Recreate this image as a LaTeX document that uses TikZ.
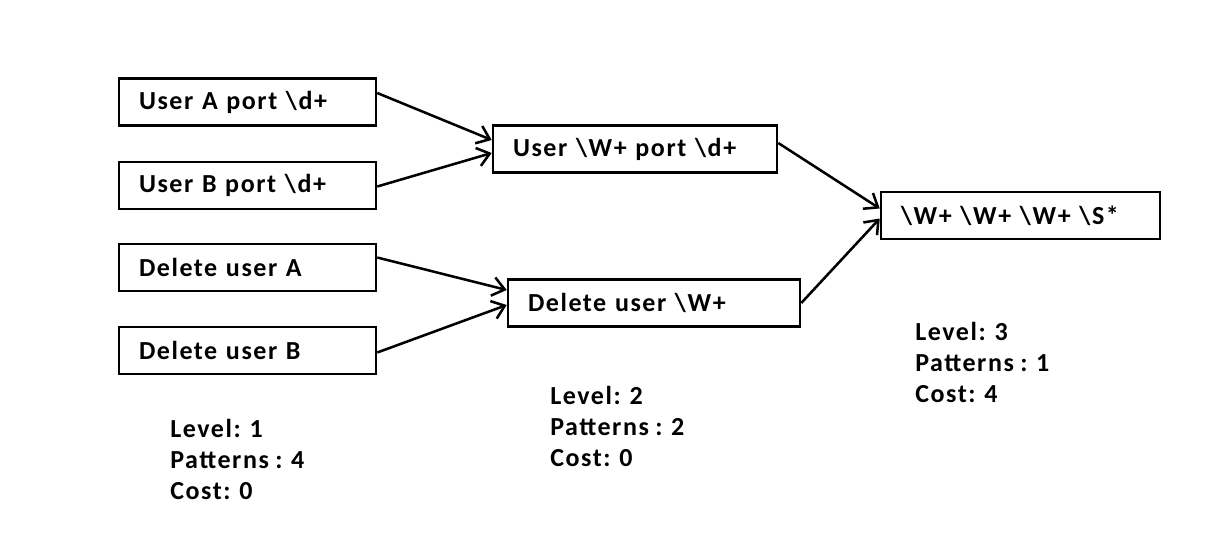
\documentclass[tikz,border=0pt]{standalone}
\usepackage{fontspec}
\setmainfont{Carlito}
\newfontfamily\boxfont[LetterSpace=6,WordSpace=0.85]{Carlito}
\usetikzlibrary{arrows.meta,calc}
\begin{document}
\begin{tikzpicture}[x=0.75pt,y=-0.75pt,
 box/.style={draw, line width=1.9pt, rectangle, inner xsep=15pt, inner ysep=0pt,
   minimum height=35.25pt, align=left, font=\boxfont\bfseries\fontsize{19.5}{22}\selectfont},
 info/.style={anchor=north west, inner sep=0pt, align=left,
   font=\boxfont\bfseries\fontsize{19.5}{23.25}\selectfont},
 arr/.style={line width=1.9pt, -{Straight Barb[length=9pt,width=14pt,line width=1.9pt]}}]
\useasboundingbox (0,0) rectangle (1216,550);
\node[box, text width=162.75pt] (A) at (247.5,102) {User A port \textbackslash d+};
\node[box, text width=162.75pt] (B) at (247.5,185.5) {User B port \textbackslash d+};
\node[box, text width=162.75pt] (C) at (247.5,267.5) {Delete user A};
\node[box, text width=162.75pt] (D) at (247.5,350.5) {Delete user B};
\node[box, text width=183pt] (E) at (635,149) {User \textbackslash W+ port \textbackslash d+};
\node[box, text width=189pt] (F) at (654,303) {Delete user \textbackslash W+};
\node[box, text width=179.25pt] (G) at (1020.5,215.5) {\textbackslash W+ \textbackslash W+ \textbackslash W+ \textbackslash S*};
\draw[arr] ($(A.east)+(0,-9)$) -- ($(E.west)+(0,-9)$);
\draw[arr] ($(B.east)+(0,1)$) -- ($(E.west)+(0,4)$);
\draw[arr] ($(C.east)+(0,-10)$) -- ($(F.west)+(0,-13)$);
\draw[arr] ($(D.east)+(0,2)$) -- ($(F.west)+(0,2)$);
\draw[arr] ($(E.east)+(0,-6)$) -- ($(G.west)+(0,-7)$);
\draw[arr] ($(F.east)+(0,0)$) -- ($(G.west)+(0,3)$);
\node[info] (L1) at (170,419) {Level: 1\\Patterns : 4\\Cost: 0};
\node[info] (L2) at (550,386) {Level: 2\\Patterns : 2\\Cost: 0};
\node[info] (L3) at (915,322) {Level: 3\\Patterns : 1\\Cost: 4};
\end{tikzpicture}
\end{document}
